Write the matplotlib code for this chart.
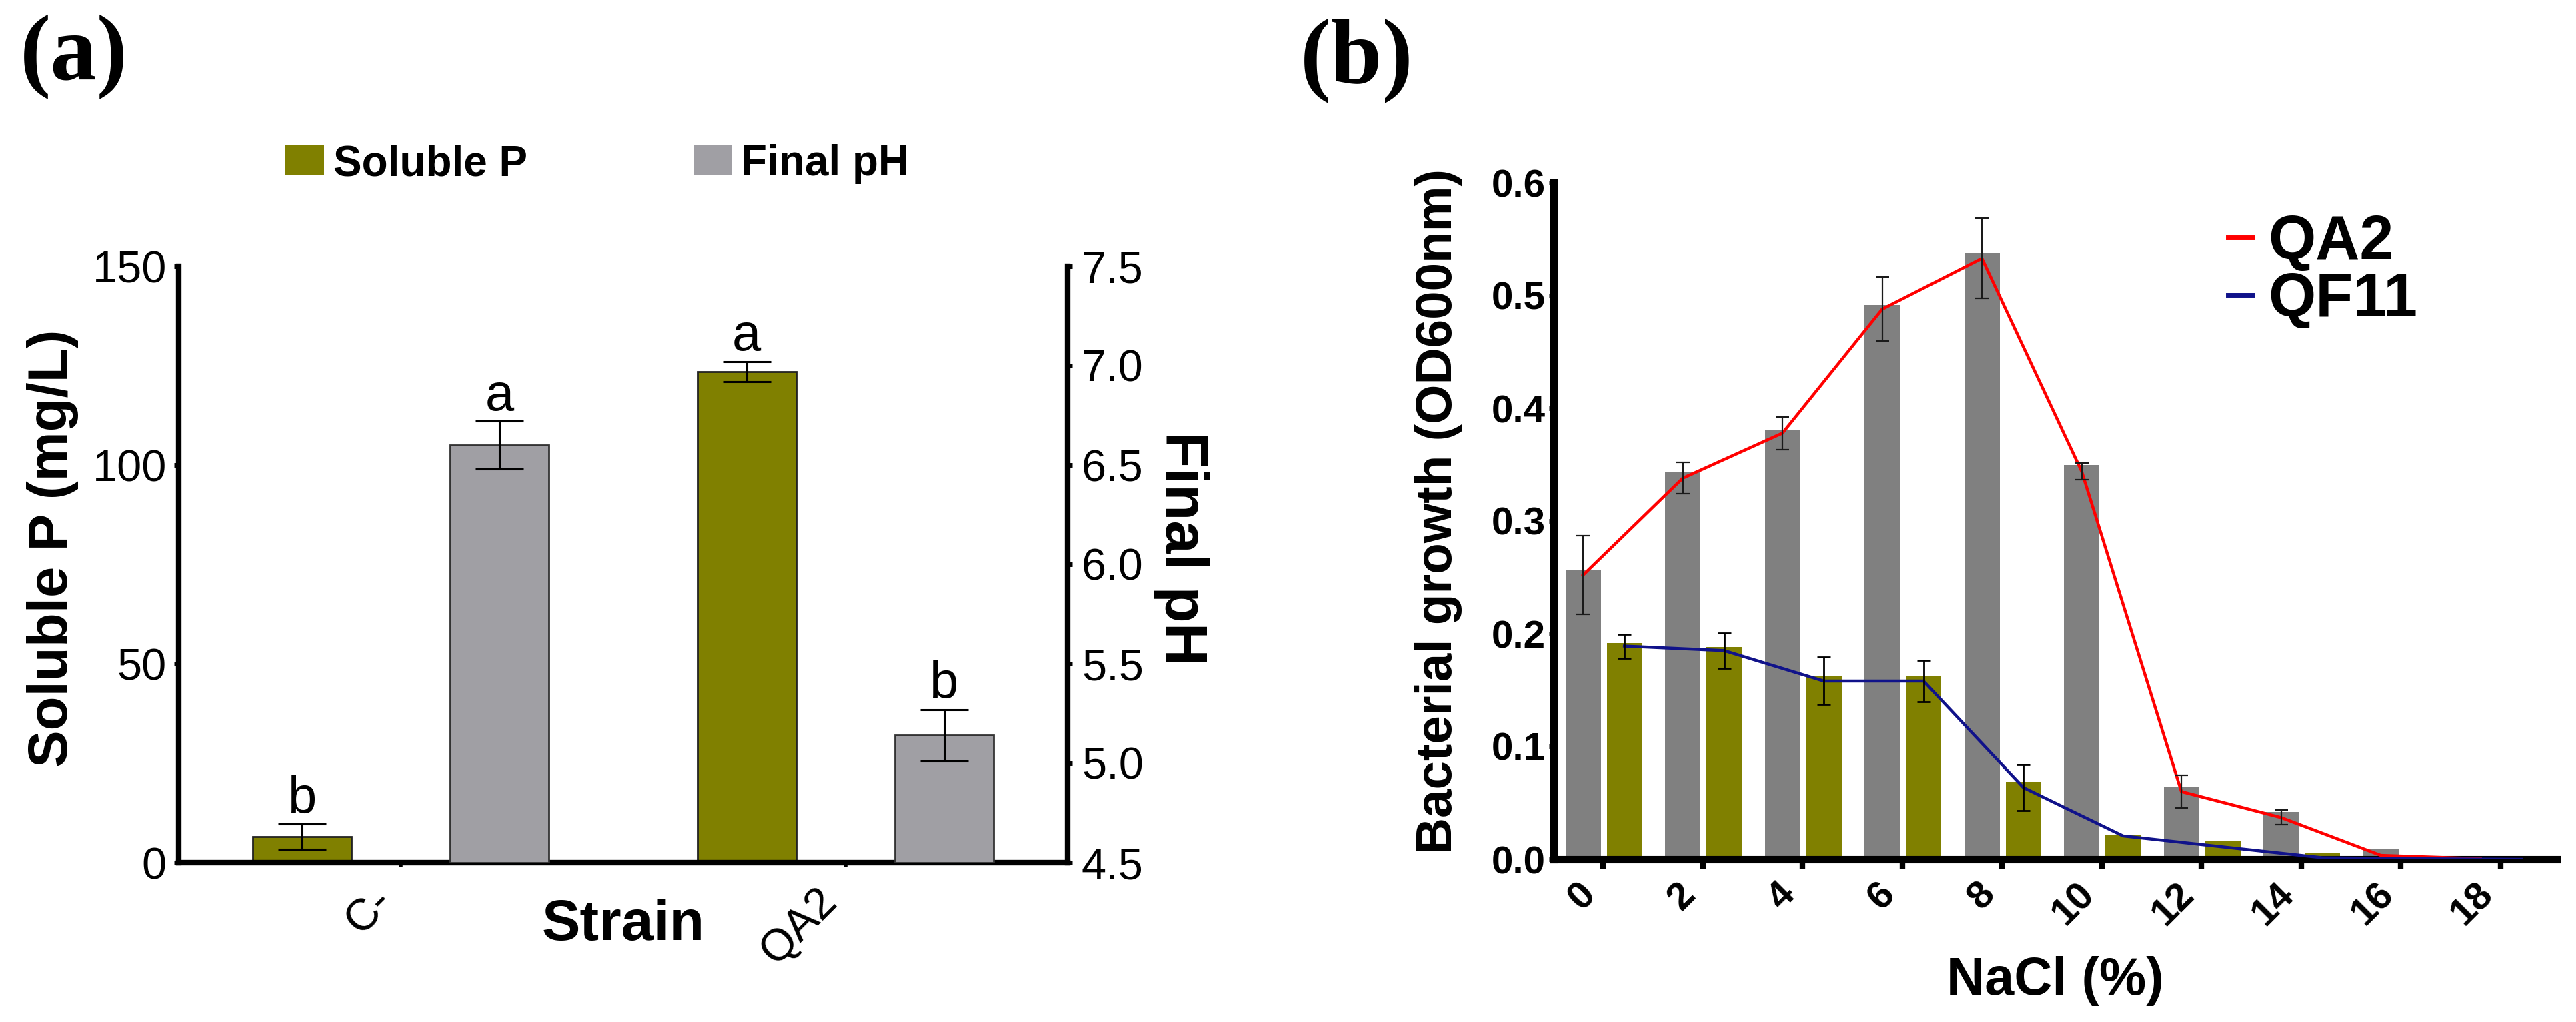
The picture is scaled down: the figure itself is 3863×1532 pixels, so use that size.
import matplotlib
matplotlib.use("Agg")
import matplotlib.pyplot as plt
import numpy as np
from matplotlib.patches import Patch
from matplotlib.ticker import MultipleLocator, FormatStrFormatter

plt.rcParams['font.family'] = ['Liberation Sans', 'DejaVu Sans']

# ---------------- data: panel (a) ----------------
strains = ['C-', 'QA2']
soluble_p = [6.5, 123.5]
soluble_p_err = [3.2, 2.5]
final_ph = [6.60, 5.14]
final_ph_err = [0.12, 0.13]
letters_p = ['b', 'a']
letters_ph = ['a', 'b']

# ---------------- data: panel (b) ----------------
nacl = [0, 2, 4, 6, 8, 10, 12, 14, 16, 18]
qa2_bar = [0.256, 0.343, 0.381, 0.492, 0.538, 0.350, 0.064, 0.042, 0.009, 0.001]
qa2_mean = [0.252, 0.338, 0.378, 0.488, 0.533, 0.344, 0.060, 0.037, 0.0035, 0.0005]
qa2_err = [0.035, 0.014, 0.0145, 0.0285, 0.0355, 0.0075, 0.0145, 0.0065, 0.0, 0.0]
qf11_bar = [0.192, 0.188, 0.162, 0.162, 0.0686, 0.022, 0.0157, 0.006, 0.001, 0.0005]
qf11_mean = [0.189, 0.185, 0.158, 0.158, 0.0636, 0.0207, 0.011, 0.0014, 0.0005, 0.0]
qf11_err = [0.0107, 0.0156, 0.021, 0.0185, 0.0205, 0.0, 0.0, 0.0, 0.0, 0.0]

OLIVE = '#808000'
GRAY_A = '#A09FA4'
GRAY_B = '#808080'
W, H = 3863, 1532

fig = plt.figure(figsize=(W / 100, H / 100), dpi=100)

# ================= panel (a) =================
ax1 = fig.add_axes([268 / W, 1 - 1293 / H, (1601 - 268) / W, (1293 - 399) / H])
ax2 = ax1.twinx()
xg = np.arange(len(strains))
off = 0.222
bw = 0.222

ax1.bar(xg - off, soluble_p, width=bw, color=OLIVE, edgecolor='#222222', linewidth=2, zorder=2)
ax1.errorbar(xg - off, soluble_p, yerr=soluble_p_err, fmt='none', ecolor='black',
             elinewidth=2.2, capsize=26, capthick=2.2, zorder=3)
ax2.bar(xg + off, np.array(final_ph) - 4.5, bottom=4.5, width=bw, color=GRAY_A,
        edgecolor='#333333', linewidth=2, zorder=2)
ax2.errorbar(xg + off, final_ph, yerr=final_ph_err, fmt='none', ecolor='black',
             elinewidth=2.2, capsize=26, capthick=2.2, zorder=3)

for x, v, e, t in zip(xg - off, soluble_p, soluble_p_err, letters_p):
    ax1.annotate(t, (x, v + e), xytext=(0, 12), textcoords='offset points',
                 ha='center', va='baseline', fontsize=56)
for x, v, e, t in zip(xg + off, final_ph, final_ph_err, letters_ph):
    ax2.annotate(t, (x, v + e), xytext=(0, 12), textcoords='offset points',
                 ha='center', va='baseline', fontsize=56)

ax1.set_xlim(-0.5, 1.5)
ax1.set_ylim(0, 150)
ax2.set_ylim(4.5, 7.5)
ax1.set_yticks([0, 50, 100, 150])
ax2.set_yticks(np.arange(4.5, 7.51, 0.5))
ax2.yaxis.set_major_formatter(FormatStrFormatter('%.1f'))
ax1.set_xticks(xg)
ax1.set_xticklabels(strains, rotation=45, ha='right', rotation_mode='default')

for a in (ax1, ax2):
    a.spines['top'].set_visible(False)
    for s in ('left', 'right', 'bottom'):
        a.spines[s].set_linewidth(6)
ax1.spines['right'].set_visible(False)
ax2.spines['left'].set_visible(False)
ax2.spines['bottom'].set_visible(False)
ax1.tick_params(axis='y', direction='out', length=5, width=5, labelsize=48, pad=8)
ax1.tick_params(axis='x', direction='out', length=5, width=4, labelsize=48, pad=14)
ax2.tick_params(axis='y', direction='out', length=5, width=5, labelsize=48, pad=10)

fig.text(79 / W, 1 - 822 / H, 'Soluble P (mg/L)', rotation=90, ha='center', va='center',
         fontsize=60, fontweight='bold')
fig.text(1771 / W, 1 - 822 / H, 'Final pH', rotation=270, ha='center', va='center',
         fontsize=64, fontweight='bold')
fig.text(935 / W, 1 - 1387 / H, 'Strain', ha='center', va='center', fontsize=62,
         fontweight='bold')

handles_a = [Patch(facecolor=OLIVE, edgecolor='none'), Patch(facecolor=GRAY_A, edgecolor='none')]
fig.legend(handles_a, ['Soluble P', 'Final pH'], loc='center left',
           bbox_to_anchor=(428 / W, 1 - 246 / H), bbox_transform=fig.transFigure,
           ncol=2, frameon=False, prop={'size': 46, 'weight': 'bold'},
           handlelength=0.9, handleheight=0.69, handletextpad=0.22,
           columnspacing=3.9, borderpad=0, borderaxespad=0)

fig.text(30 / W, 1 - 22 / H, '(a)', ha='left', va='top', fontsize=100,
         fontweight='bold', family=['Liberation Serif', 'DejaVu Serif'])

# ================= panel (b) =================
bx = fig.add_axes([2330 / W, 1 - 1288 / H, (3834 - 2330) / W, (1288 - 274) / H])
xn = np.array(nacl, dtype=float)
bwb = 0.71
gofs = -0.40
oofs = 0.43
bx.bar(xn + gofs, qa2_bar, width=bwb, color=GRAY_B, edgecolor='none', zorder=2)
bx.bar(xn + oofs, qf11_bar, width=bwb, color=OLIVE, edgecolor='none', zorder=2)
bx.plot(xn + gofs, qa2_mean, color='#FF0000', lw=3.2, zorder=3, label='QA2')
bx.plot(xn + oofs, qf11_mean, color='#10128A', lw=3.2, zorder=3, label='QF11')
mask_g = np.array(qa2_err) > 0
mask_o = np.array(qf11_err) > 0
bx.errorbar((xn + gofs)[mask_g], np.array(qa2_mean)[mask_g], yerr=np.array(qa2_err)[mask_g],
            fmt='none', ecolor='#1a1a1a', elinewidth=1.6, capsize=7.5, capthick=1.6, zorder=4)
bx.errorbar((xn + oofs)[mask_o], np.array(qf11_mean)[mask_o], yerr=np.array(qf11_err)[mask_o],
            fmt='none', ecolor='#000000', elinewidth=2.0, capsize=7.0, capthick=2.0, zorder=4)

bx.set_xlim(-0.99, 19.13)
bx.set_ylim(0, 0.6)
bx.set_xticks(nacl)
bx.set_xticklabels([str(v) for v in nacl], rotation=45, ha='right', fontweight='bold')
bx.set_yticks(np.arange(0, 0.61, 0.1))
bx.yaxis.set_major_formatter(FormatStrFormatter('%.1f'))
for lab in bx.get_yticklabels():
    lab.set_fontweight('bold')
bx.xaxis.set_minor_locator(MultipleLocator(0.5))
bx.spines['top'].set_visible(False)
bx.spines['right'].set_visible(False)
bx.spines['left'].set_linewidth(8)
bx.spines['bottom'].set_linewidth(8)
bx.tick_params(axis='x', which='major', direction='out', length=10, width=6, labelsize=42, pad=8)
bx.tick_params(axis='x', which='minor', direction='out', length=3, width=1.5, color='#aaaaaa')
bx.tick_params(axis='y', direction='out', length=5, width=5, labelsize=42, pad=4)

fig.text(2157 / W, 1 - 767 / H, 'Bacterial growth (OD600nm)', rotation=90, ha='center',
         va='center', fontsize=55, fontweight='bold')
fig.text(3082 / W, 1 - 1470 / H, 'NaCl (%)', ha='center', va='center', fontsize=57,
         fontweight='bold')

leg = bx.legend(loc='center left', bbox_to_anchor=(3341 / W, 1 - 407 / H),
                bbox_transform=fig.transFigure, frameon=False,
                prop={'size': 66, 'weight': 'bold'}, handlelength=0.4,
                handletextpad=0.26, labelspacing=0.0, borderpad=0, borderaxespad=0)
for ln in leg.get_lines():
    ln.set_linewidth(5)

fig.text(1950 / W, 1 - 28 / H, '(b)', ha='left', va='top', fontsize=100,
         fontweight='bold', family=['Liberation Serif', 'DejaVu Serif'])

fig.savefig('out.png', dpi=100)
